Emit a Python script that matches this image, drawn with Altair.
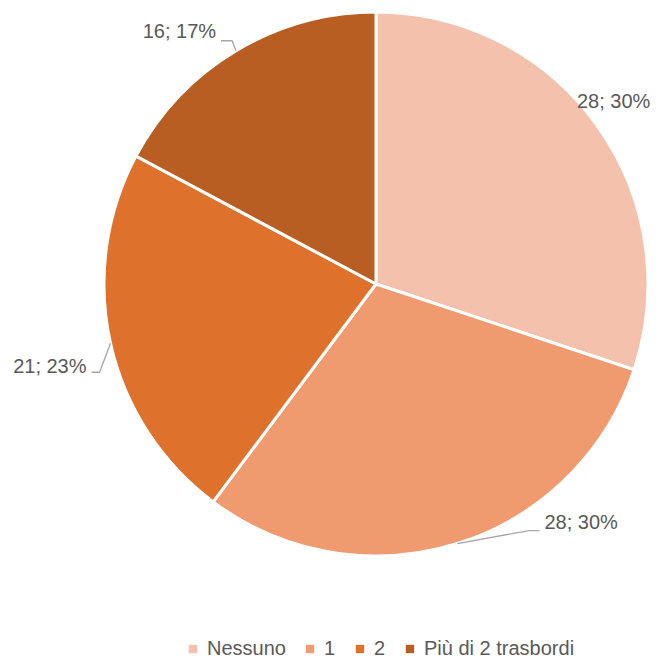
import math
import altair as alt
import pandas as pd

# ---- data ----
categories = ["Nessuno", "1", "2", "Più di 2 trasbordi"]
values = [28, 28, 21, 16]
colors = ["#F4C1AD", "#F09A6F", "#DE722C", "#B95E22"]

# ---- layout / style (chart coordinates, page margin of 8px excluded) ----
W, H = 645, 650
CX, CY, R = 368, 276, 272
FONT = "Liberation Sans"
TXT = "#595959"
# label placement relative to the slice edge point: (dx_label, dy_label, elbow list, align)
label_style = [
    dict(dx=17, dy=-23, elbow=None, align="center"),
    dict(dx=87, dy=-21, elbow=[(72, -13), (82, -13)], align="left"),
    dict(dx=-24, dy=24, elbow=[(-11, 29), (-19, 29)], align="right"),
    dict(dx=-20, dy=-19, elbow=[(-4, -10), (-15, -10)], align="right"),
]

total = sum(values)
rows, text_rows, line_rows = [], [], []
cum = 0
for i, (c, v) in enumerate(zip(categories, values)):
    mid = (cum + v / 2) / total * 2 * math.pi
    cum += v
    ex = CX + R * math.sin(mid)
    ey = CY - R * math.cos(mid)
    st = label_style[i]
    pct = round(v / total * 100)
    rows.append({"cat": c, "val": v, "order": i})
    text_rows.append({"cat": c, "label": f"{v}; {pct}%", "x": ex + st["dx"],
                      "y": ey + st["dy"], "align": st["align"]})
    if st["elbow"]:
        pts = [(ex, ey)] + [(ex + a, ey + b) for a, b in st["elbow"]]
        for k, (px, py) in enumerate(pts):
            line_rows.append({"cat": c, "x": px, "y": py, "k": k})

df = pd.DataFrame(rows)
tdf = pd.DataFrame(text_rows)
ldf = pd.DataFrame(line_rows)

xs = alt.Scale(domain=[0, W], range=[0, W], zero=False, nice=False)
ys = alt.Scale(domain=[0, H], range=[0, H], zero=False, nice=False)

pie = alt.Chart(df).mark_arc(stroke="white", strokeWidth=3, radius=R).encode(
    theta=alt.Theta("val:Q", stack=True),
    order=alt.Order("order:Q"),
    color=alt.Color(
        "cat:N",
        scale=alt.Scale(domain=categories, range=colors),
        sort=categories,
        legend=alt.Legend(
            title=None, orient="none", direction="horizontal",
            legendX=175, legendY=631,
            symbolType="square", symbolSize=70, symbolStrokeWidth=0,
            labelFont=FONT, labelFontSize=20, labelColor=TXT,
            columnPadding=14, symbolOffset=0, labelOffset=4,
        ),
    ),
    x=alt.value(CX),
    y=alt.value(CY),
)

lines = alt.Chart(ldf).mark_line(color="#A6A6A6", strokeWidth=1.3).encode(
    x=alt.X("x:Q", scale=xs, axis=None),
    y=alt.Y("y:Q", scale=ys, axis=None),
    detail="cat:N",
    order="k:Q",
)

def text_layer(al):
    return alt.Chart(tdf[tdf["align"] == al]).mark_text(
        font=FONT, fontSize=20, color=TXT, align=al, baseline="middle"
    ).encode(
        x=alt.X("x:Q", scale=xs, axis=None),
        y=alt.Y("y:Q", scale=ys, axis=None),
        text="label:N",
    )

chart = alt.layer(
    pie, lines, text_layer("center"), text_layer("left"), text_layer("right")
).properties(
    width=W, height=H, padding=0, autosize=alt.AutoSizeParams(type="none")
).configure_view(stroke=None)

chart.save("out.html", embed_options={"renderer": "svg", "actions": False})
